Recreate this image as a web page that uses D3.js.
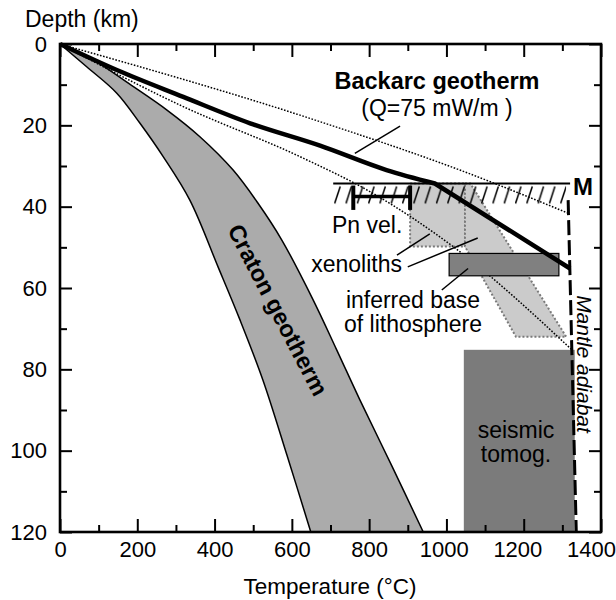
<!DOCTYPE html>
<html>
<head>
<meta charset="utf-8">
<script src="https://cdn.jsdelivr.net/npm/d3@7"></script>
<style>
  body { margin: 0; background: #fff; }
  svg text { font-family: "Liberation Sans", Arial, Helvetica, sans-serif; fill: #000; }
</style>
</head>
<body>
<div id="chart"></div>
<script>
// temperature (C), depth (km) pairs
const cratonCool = [[0,0],[69,5.6],[147,12.1],[207,19.5],[267,27.7],[336,38.4],[409,54.8],[466,67.9],[525,82.6],[587,101],[649,120]];
const cratonWarm = [[0,0],[86,3.9],[190,10.5],[276,16.2],[362,22.8],[448,31],[512,39.1],[574,48.2],[655,62.9],[716,75.2],[776,87.5],[859,103.8],[940,120]];
const backarc = [[0,0],[147,6.4],[319,13],[492,19.5],[673,25],[845,31],[970,34.3]];
const backarcMantle = [[970,34.3],[1320,55.2]];
const dottedUpper = [[0,0],[673,19.1],[1035,31],[1315,41.6]];
const dottedLower = [[0,0],[319,15.4],[621,27.7],[802,36.3],[1017,49.8],[1328,75.5]];
const adiabat = [[1315,38.4],[1336,120]];
const mohoDepth = 34.3;
const mohoRange = [707, 1320];
const pnVel = {t0: 759, t1: 906, depth: 37.5, capTop: 34.8, capBottom: 40.8};
const xenoRect = [[906,34.3],[1048,34.3],[1048,49.8],[906,49.8]];
const xenoBand = [[1048,34.3],[1062,34.3],[1310,72],[1180,72],[1048,49.8]];
const lithBase = {t0: 1007, t1: 1291, d0: 51.5, d1: 57};
const seismic = {t0: 1045, t1: 1332, d0: 75.2, d1: 120};

const xMajor = [0,200,400,600,800,1000,1200,1400];
const xMinor = [100,300,500,700,900,1100,1300];
const yMajor = [0,20,40,60,80,100,120];
const yMinor = [10,30,50,70,90,110];

const width = 616, height = 600;
const x = d3.scaleLinear().domain([0, 1400]).range([60, 601]);
const y = d3.scaleLinear().domain([0, 120]).range([44, 532]);

const svg = d3.select("#chart").append("svg").attr("width", width).attr("height", height);

const defs = svg.append("defs");
const hatch = defs.append("pattern")
    .attr("id", "hatch")
    .attr("patternUnits", "userSpaceOnUse")
    .attr("width", 11.3).attr("height", 22)
    .attr("x", x(mohoRange[0]) + 1).attr("y", y(mohoDepth));
hatch.append("path")
    .attr("d", "M0.5,20 L6,3")
    .attr("stroke", "#000").attr("stroke-width", 1.5).attr("fill", "none");

const line = d3.line().x(d => x(d[0])).y(d => y(d[1]));
const smooth = d3.line().x(d => x(d[0])).y(d => y(d[1])).curve(d3.curveCatmullRom.alpha(0.5));

// craton band
svg.append("path")
    .attr("d", smooth(cratonCool) + smooth(cratonWarm.slice().reverse()).replace("M", "L"))
    .attr("fill", "#ababab").attr("stroke", "none");
svg.append("path").attr("d", smooth(cratonCool)).attr("fill", "none").attr("stroke", "#000").attr("stroke-width", 1.5);
svg.append("path").attr("d", smooth(cratonWarm)).attr("fill", "none").attr("stroke", "#000").attr("stroke-width", 1.5);

// xenoliths
[xenoRect, xenoBand].forEach(p => {
    svg.append("path")
        .attr("d", line(p) + "Z")
        .attr("fill", "#cbcbcb").attr("stroke", "#7a7a7a")
        .attr("stroke-width", 2).attr("stroke-dasharray", "2,2");
});

// Moho with hatching
svg.append("rect")
    .attr("x", x(mohoRange[0])).attr("y", y(mohoDepth))
    .attr("width", x(mohoRange[1]) - x(mohoRange[0]) - 4).attr("height", 22)
    .attr("fill", "url(#hatch)");
svg.append("line")
    .attr("x1", x(mohoRange[0])).attr("x2", x(mohoRange[1]))
    .attr("y1", y(mohoDepth)).attr("y2", y(mohoDepth))
    .attr("stroke", "#000").attr("stroke-width", 2);
svg.append("text").attr("x", x(mohoRange[1]) + 3).attr("y", y(mohoDepth) + 12)
    .attr("font-size", 24).attr("font-weight", "bold").text("M");

// dotted geotherm bounds
[dottedUpper, dottedLower].forEach(p => {
    svg.append("path")
        .attr("d", d3.line().x(d => x(d[0])).y(d => y(d[1])).curve(d3.curveMonotoneX)(p))
        .attr("fill", "none").attr("stroke", "#000")
        .attr("stroke-width", 1.5).attr("stroke-dasharray", "1.6,1.6");
});

// seismic tomography box
svg.append("rect")
    .attr("x", x(seismic.t0)).attr("y", y(seismic.d0))
    .attr("width", x(seismic.t1) - x(seismic.t0)).attr("height", y(seismic.d1) - y(seismic.d0))
    .attr("fill", "#7b7b7b");
svg.append("text").attr("x", x(1180)).attr("y", 438).attr("text-anchor", "middle")
    .attr("font-size", 23).text("seismic");
svg.append("text").attr("x", x(1180)).attr("y", 462).attr("text-anchor", "middle")
    .attr("font-size", 23).text("tomog.");

// inferred base of lithosphere
svg.append("rect")
    .attr("x", x(lithBase.t0)).attr("y", y(lithBase.d0))
    .attr("width", x(lithBase.t1) - x(lithBase.t0)).attr("height", y(lithBase.d1) - y(lithBase.d0))
    .attr("fill", "#808080").attr("stroke", "#000").attr("stroke-width", 1.2);

// backarc geotherm: smooth in the crust, straight below the Moho
svg.append("path")
    .attr("d", d3.line().x(d => x(d[0])).y(d => y(d[1])).curve(d3.curveMonotoneX)(backarc) + line(backarcMantle).replace("M", "L"))
    .attr("fill", "none").attr("stroke", "#000").attr("stroke-width", 4.5)
    .attr("stroke-linejoin", "round");

// mantle adiabat
svg.append("path").attr("d", line(adiabat))
    .attr("fill", "none").attr("stroke", "#000").attr("stroke-width", 3)
    .attr("stroke-dasharray", "15,5");

// Pn velocity bar
const pn = svg.append("g").attr("stroke", "#000");
pn.append("line").attr("x1", x(pnVel.t0)).attr("x2", x(pnVel.t1))
    .attr("y1", y(pnVel.depth)).attr("y2", y(pnVel.depth)).attr("stroke-width", 3.5);
[pnVel.t0, pnVel.t1].forEach(t => {
    pn.append("line").attr("x1", x(t)).attr("x2", x(t))
        .attr("y1", y(pnVel.capTop)).attr("y2", y(pnVel.capBottom)).attr("stroke-width", 4);
});

// labels and pointers
const pointers = [
    [[763,26.9],[880,20.2]],
    [[872,51.9],[957,46.7]],
    [[900,54.8],[1081,47.7]],
    [[988,60.5],[1056,55.2]]
];
pointers.forEach(p => {
    svg.append("path").attr("d", line(p)).attr("stroke", "#000").attr("stroke-width", 1.5).attr("fill", "none");
});

svg.append("text").attr("x", 437).attr("y", 89).attr("text-anchor", "middle")
    .attr("font-size", 23.5).attr("font-weight", "bold").text("Backarc geotherm");
svg.append("text").attr("x", 437).attr("y", 116).attr("text-anchor", "middle")
    .attr("font-size", 23).text("(Q=75 mW/m )");
svg.append("text").attr("x", 332).attr("y", 233).attr("font-size", 23).text("Pn vel.");
svg.append("text").attr("x", 402).attr("y", 272).attr("text-anchor", "end").attr("font-size", 23).text("xenoliths");
svg.append("text").attr("x", 413).attr("y", 308).attr("text-anchor", "middle").attr("font-size", 23).text("inferred base");
svg.append("text").attr("x", 413).attr("y", 332).attr("text-anchor", "middle").attr("font-size", 23).text("of lithosphere");

svg.append("text")
    .attr("transform", `translate(${x(564)},${y(65.4)}) rotate(62.5)`)
    .attr("text-anchor", "middle").attr("dy", "0.35em")
    .attr("font-size", 23.5).attr("font-weight", "bold").text("Craton geotherm");

svg.append("text")
    .attr("transform", `translate(577,364) rotate(90)`)
    .attr("text-anchor", "middle")
    .attr("font-size", 21).attr("font-style", "italic").text("Mantle adiabat");

// axes (ticks point inward)
const axisFont = 22;
const fmt = d3.format("d");
const gx = svg.append("g").attr("transform", `translate(0,${y(120)})`)
    .call(d3.axisBottom(x).tickValues(xMajor).tickSize(-13).tickSizeOuter(0).tickPadding(9).tickFormat(fmt));
gx.append("g").call(d3.axisBottom(x).tickValues(xMinor).tickSize(-7).tickSizeOuter(0).tickFormat(""));
gx.selectAll("text").attr("font-size", axisFont).attr("dx", d => d >= 1000 ? -(d - 850) / 55 : 0);

const gxt = svg.append("g").attr("transform", `translate(0,${y(0)})`)
    .call(d3.axisTop(x).tickValues(xMajor).tickSize(-13).tickSizeOuter(0).tickFormat(""));
gxt.append("g").call(d3.axisTop(x).tickValues(xMinor).tickSize(-7).tickSizeOuter(0).tickFormat(""));

const gy = svg.append("g").attr("transform", `translate(${x(0)},0)`)
    .call(d3.axisLeft(y).tickValues(yMajor).tickSize(-12).tickSizeOuter(0).tickPadding(13).tickFormat(fmt));
gy.append("g").call(d3.axisLeft(y).tickValues(yMinor).tickSize(-7).tickSizeOuter(0).tickFormat(""));
gy.selectAll("text").attr("font-size", axisFont);

const gyr = svg.append("g").attr("transform", `translate(${x(1400)},0)`)
    .call(d3.axisRight(y).tickValues(yMajor).tickSize(-12).tickSizeOuter(0).tickFormat(""));
gyr.append("g").call(d3.axisRight(y).tickValues(yMinor).tickSize(-7).tickSizeOuter(0).tickFormat(""));

svg.selectAll(".tick line").attr("stroke", "#000").attr("stroke-width", 2);
svg.selectAll(".domain").remove();

svg.append("rect")
    .attr("x", x(0)).attr("y", y(0))
    .attr("width", x(1400) - x(0)).attr("height", y(120) - y(0))
    .attr("fill", "none").attr("stroke", "#000").attr("stroke-width", 2.6);

svg.append("text").attr("x", 25).attr("y", 27).attr("font-size", 23).text("Depth (km)");
svg.append("text").attr("x", 330).attr("y", 594).attr("text-anchor", "middle").attr("font-size", 22.5).text("Temperature (°C)");
</script>
</body>
</html>
